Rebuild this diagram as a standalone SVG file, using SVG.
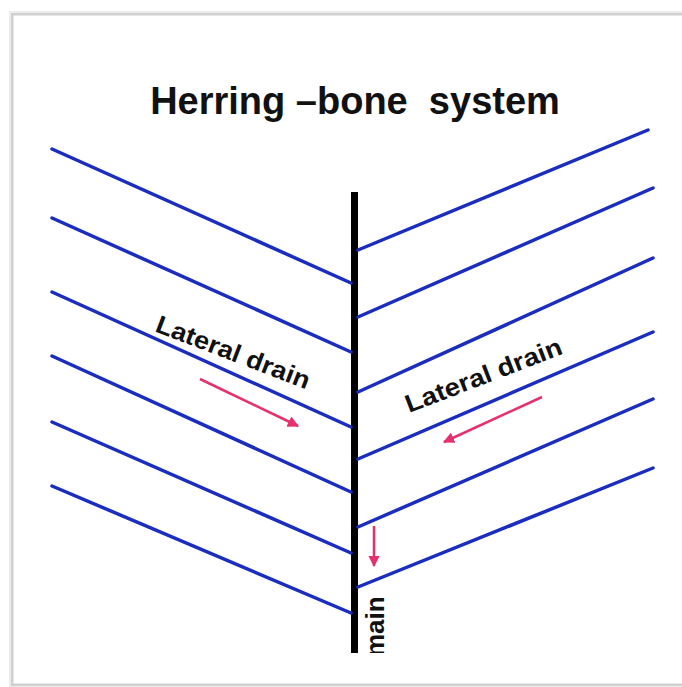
<svg xmlns="http://www.w3.org/2000/svg" width="682" height="687" viewBox="0 0 682 687">
<style>
.lat{stroke:#1a2dbf;stroke-width:3.5;stroke-linecap:round;fill:none}
.main{stroke:#000;stroke-width:7;fill:none}
.arr{stroke:#e5306c;stroke-width:2.5;fill:none}
.t{font-family:"Liberation Sans",Arial,sans-serif;font-weight:bold;fill:#111}
</style>
<defs>
<marker id="ah" viewBox="0 0 10 10" refX="9" refY="5" markerWidth="4.5" markerHeight="4.5" orient="auto" markerUnits="strokeWidth">
<path d="M0,0 L10,5 L0,10 z" fill="#e5306c"/>
</marker>
<clipPath id="clipMain"><rect x="300" y="560" width="120" height="93"/></clipPath>
</defs>
<rect x="0" y="0" width="682" height="687" fill="#fff"/>
<g id="frame">
<rect x="12" y="14" width="690" height="671" fill="none" stroke="#d0d0d0" stroke-width="3"/>
<rect x="10" y="12" width="694" height="675" fill="none" stroke="#ececec" stroke-width="2"/>
</g>
<g id="title"><text class="t" x="355" y="114" font-size="38" text-anchor="middle" xml:space="preserve" style="white-space:pre">Herring –bone  system</text></g>
<g id="connectors">
<g id="main-drain"><line class="main" x1="354.5" y1="192" x2="354.5" y2="653"/></g>
<g id="left-laterals">
<line class="lat" x1="52" y1="149" x2="351" y2="283"/>
<line class="lat" x1="52" y1="218" x2="351" y2="352"/>
<line class="lat" x1="52" y1="292" x2="351" y2="427"/>
<line class="lat" x1="52" y1="356" x2="351" y2="492"/>
<line class="lat" x1="52" y1="422" x2="351" y2="553"/>
<line class="lat" x1="52" y1="486" x2="351" y2="613"/>
</g>
<g id="right-laterals">
<line class="lat" x1="358" y1="250" x2="648" y2="130"/>
<line class="lat" x1="358" y1="317" x2="653" y2="188"/>
<line class="lat" x1="358" y1="392" x2="653" y2="258"/>
<line class="lat" x1="358" y1="459" x2="653" y2="332"/>
<line class="lat" x1="358" y1="527" x2="653" y2="399"/>
<line class="lat" x1="358" y1="587" x2="653" y2="468"/>
</g>
<g id="flow-arrows">
<line class="arr" x1="200" y1="379" x2="298" y2="426" marker-end="url(#ah)"/>
<line class="arr" x1="542" y1="397" x2="444" y2="442" marker-end="url(#ah)"/>
<line class="arr" x1="374" y1="526" x2="374" y2="566" marker-end="url(#ah)"/>
</g>
</g>
<g id="label-left"><text class="t" font-size="25" textLength="163" lengthAdjust="spacingAndGlyphs" transform="translate(154,331) rotate(21)">Lateral drain</text></g>
<g id="label-right"><text class="t" font-size="25" textLength="166" lengthAdjust="spacingAndGlyphs" transform="translate(409,413) rotate(-21)">Lateral drain</text></g>
<g id="label-main" clip-path="url(#clipMain)"><text class="t" font-size="26" transform="translate(384,657) rotate(-90)">main</text></g>
</svg>
